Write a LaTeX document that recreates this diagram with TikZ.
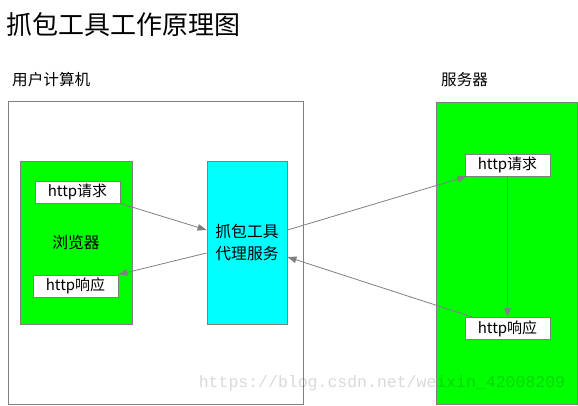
\documentclass[tikz,border=0pt]{standalone}
\usepackage{fontspec}
\setmainfont{Noto Sans CJK SC}
\newfontfamily\markfont{Liberation Mono}
\definecolor{pc-green}{RGB}{0,255,0}
\definecolor{pc-cyan}{RGB}{0,255,255}
\definecolor{line-gray}{RGB}{128,128,128}
\usepackage{tikz}
\usetikzlibrary{arrows.meta, positioning, calc}

\begin{document}
\begin{tikzpicture}[
    x=1pt, y=1pt,
    frame/.style={rectangle, draw=line-gray, line width=0.9pt, inner sep=0pt},
    panel/.style={frame, fill=pc-green},
    proxybox/.style={frame, fill=pc-cyan, minimum width=80pt, minimum height=163pt, align=center, font=\fontsize{15.8}{22}\selectfont},
    msg/.style={frame, fill=white, minimum width=85pt, minimum height=22pt, font=\fontsize{15}{16}\selectfont},
    caption/.style={anchor=west, inner sep=0pt, font=\fontsize{15.6}{17}\selectfont},
    link/.style={-{Triangle[length=9pt, width=6.5pt]}, draw=line-gray, line width=0.8pt}
]
\useasboundingbox (0,0) rectangle (578,405);

% Titel und Beschriftungen
\node[caption, font=\fontsize{26}{28}\selectfont] (title) at (6,380) {抓包工具工作原理图};
\node[caption] (pclabel) at (12,325) {用户计算机};
\node[caption] (srvlabel) at (441,325) {服务器};

% Rahmen
\node[frame, minimum width=295pt, minimum height=303pt] (pc) at (155.5,152.5) {};
\node[panel, minimum width=141pt, minimum height=302pt] (server) at (506.5,152) {};

% Browser und Proxy
\node[panel, minimum width=112pt, minimum height=163pt] (browser) at (76,162.5) {};
\node[font=\fontsize{15.8}{18}\selectfont] (browsertext) at (76,162) {浏览器};
\node[proxybox] (proxy) at (247,162.5) {抓包工具\\代理服务};

% Nachrichten
\node[msg] (req1) at (77.5,213) {http请求};
\node[msg] (resp1) at (75.5,119) {http响应};
\node[msg] (req2) at (507.5,240) {http请求};
\node[msg] (resp2) at (507.5,76.5) {http响应};

% Pfeile
\draw[link] (req1.south east) -- ([yshift=12.5pt]proxy.west);
\draw[link] ([yshift=12.5pt]proxy.east) -- ([xshift=2pt]req2.south west);
\draw[link] (req2.south) -- (resp2.north);
\draw[link] ([xshift=8pt]resp2.north west) -- ([yshift=-14.5pt]proxy.east);
\draw[link] ([yshift=-10.5pt]proxy.west) -- (resp1.north east);

% Wasserzeichen
\node[text=black, text opacity=0.15, font=\markfont\fontsize{16.5}{18}\selectfont] (mark) at (382,22) {https://blog.csdn.net/weixin\_42008209};

\end{tikzpicture}
\end{document}
